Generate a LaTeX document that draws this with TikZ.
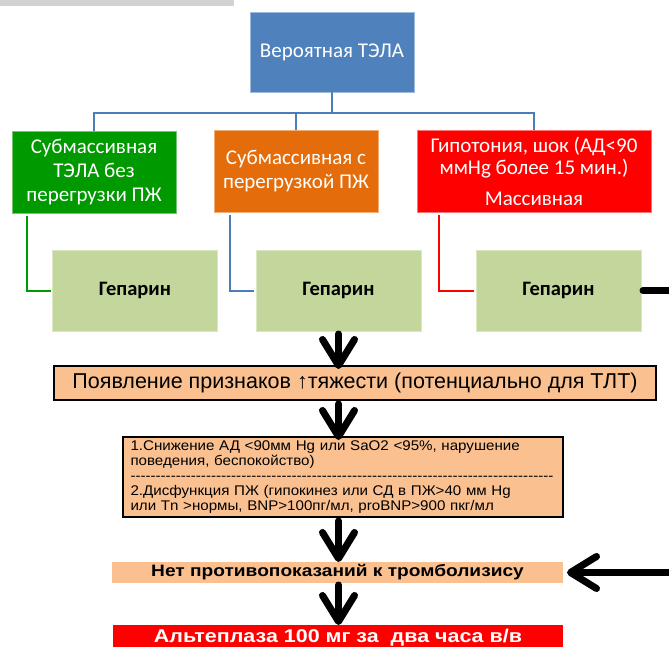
\documentclass[tikz,border=0pt]{standalone}
\usepackage{fontspec}
\setmainfont{Liberation Sans}
\newfontfamily\calib{Carlito}
\newfontfamily\arial{Liberation Sans}
\newfontfamily\arialw[FakeStretch=1.08]{Liberation Sans}
\newfontfamily\arialww[FakeStretch=1.16]{Liberation Sans}
\usetikzlibrary{arrows.meta,calc}
\definecolor{hdrblue}{HTML}{4F81BD}
\definecolor{connblue}{HTML}{4A7EBB}
\definecolor{subgreen}{HTML}{009A00}
\definecolor{suborange}{HTML}{E46C0A}
\definecolor{massred}{HTML}{FF0000}
\definecolor{hepgreen}{HTML}{C3D69B}
\definecolor{peachc}{HTML}{FAC090}
\begin{document}
\begin{tikzpicture}[x=1pt,y=-1pt,
  base/.style={inner sep=0pt, outer sep=0pt, align=center},
  topbox/.style={base, text=white, line width=0.8pt, minimum height=82pt,
    font={\calib\fontsize{21}{24}\selectfont}},
  hepbox/.style={base, fill=hepgreen, draw=hepgreen!60!white, line width=0.8pt,
    minimum width=165pt, minimum height=81pt,
    font={\calib\bfseries\fontsize{20.5}{22}\selectfont}},
  peach/.style={base, fill=peachc},
  conn/.style={line width=2.4pt, draw=connblue},
  side/.style={line width=2pt},
  bigarrow/.style={line width=7pt, line cap=round,
    -{Straight Barb[round,length=26pt,width=32pt]}},
]
\useasboundingbox (0,0) rectangle (669,647);
\clip (0,0) rectangle (669,647);
\fill[gray!35] (0,0) rectangle (234,6);

% top level
\node[topbox, fill=hdrblue, draw=hdrblue!55!white, minimum width=164pt, minimum height=80pt] (top) at (332,52) {Вероятная ТЭЛА};
\node[topbox, fill=subgreen, draw=subgreen!55!white, minimum width=164pt] (green) at (94,172) {Субмассивная\\ТЭЛА без\\перегрузки ПЖ};
\node[topbox, fill=suborange, draw=suborange!55!white, minimum width=164pt] (orange) at (296,171) {Субмассивная с\\перегрузкой ПЖ};
\node[topbox, fill=massred, draw=massred!55!white, minimum width=234pt,
  font={\calib\fontsize{21}{22}\selectfont}] (red) at (534,171) {Гипотония, шок (АД<90\\ммHg более 15 мин.)\\[9pt]Массивная};

\coordinate (bus) at (332,113);
\draw[conn] (top.south) -- (bus);
\draw[conn] (bus) -| (green.north);
\draw[conn] (bus) -| (orange.north);
\draw[conn] (bus) -| (red.north);

% heparin
\node[hepbox] (hep1) at (135,290.5) {Гепарин};
\node[hepbox] (hep2) at (338.5,290.5) {Гепарин};
\node[hepbox] (hep3) at (558.5,290.5) {Гепарин};

\draw[side, draw=subgreen] ($(green.south west)+(15,3)$) |- ($(hep1.west)+(-2,0)$);
\draw[side, draw=connblue] ($(orange.south west)+(16,3)$) |- ($(hep2.west)+(-2,0)$);
\draw[side, draw=massred] ($(red.south west)+(22,3)$) |- ($(hep3.west)+(-2,0)$);

% lower chain
\node[peach, draw=black, line width=2.5pt, minimum width=602pt, minimum height=34pt,
  font={\arial\fontsize{21.5}{24}\selectfont}] (sev) at (355,383) {Появление признаков ↑тяжести (потенциально для ТЛТ)};
\node[peach, draw=black, line width=2pt, minimum width=440pt, minimum height=80pt,
  text width=425pt, align=left, font={\arialw\fontsize{14}{15}\selectfont}] (crit) at (343,477)
  {1.Снижение АД <90мм Hg или SaO2 <95\%, нарушение\\
   поведения, беспокойство)\\
   \leavevmode\hbox to 425pt{\leaders\hbox{-}\hfill}\\
   2.Дисфункция ПЖ (гипокинез или СД в ПЖ>40 мм Hg\\
   или Tn >нормы, BNP>100пг/мл, proBNP>900 пкг/мл};
\node[peach, minimum width=451pt, minimum height=21pt,
  font={\arialww\bfseries\fontsize{16.5}{17}\selectfont}] (nocontra) at (337.5,572.5) {Нет противопоказаний к тромболизису};
\node[base, fill=massred, text=white, minimum width=450pt, minimum height=26pt,
  font={\arialww\bfseries\fontsize{18.5}{20}\selectfont}] (alte) at (338,638) {Альтеплаза 100 мг за \ два часа в/в};

\draw[bigarrow] ($(hep2.south)+(0,3)$) -- ($(hep2.south |- sev.north)+(0,3)$);
\draw[bigarrow] ($(hep2.south |- sev.south)+(0,4)$) -- ($(hep2.south |- crit.north)+(0,3)$);
\draw[bigarrow] ($(hep2.south |- crit.south)+(0,4)$) -- ($(hep2.south |- nocontra.north)+(0,0)$);
\draw[bigarrow] ($(hep2.south |- nocontra.south)+(0,2)$) -- ($(hep2.south |- alte.north)+(0,0)$);
\draw[bigarrow] ($(hep3.east)+(2,0)$) -- ++(70,0) |- ($(nocontra.east)+(4,0)$);
\end{tikzpicture}
\end{document}
